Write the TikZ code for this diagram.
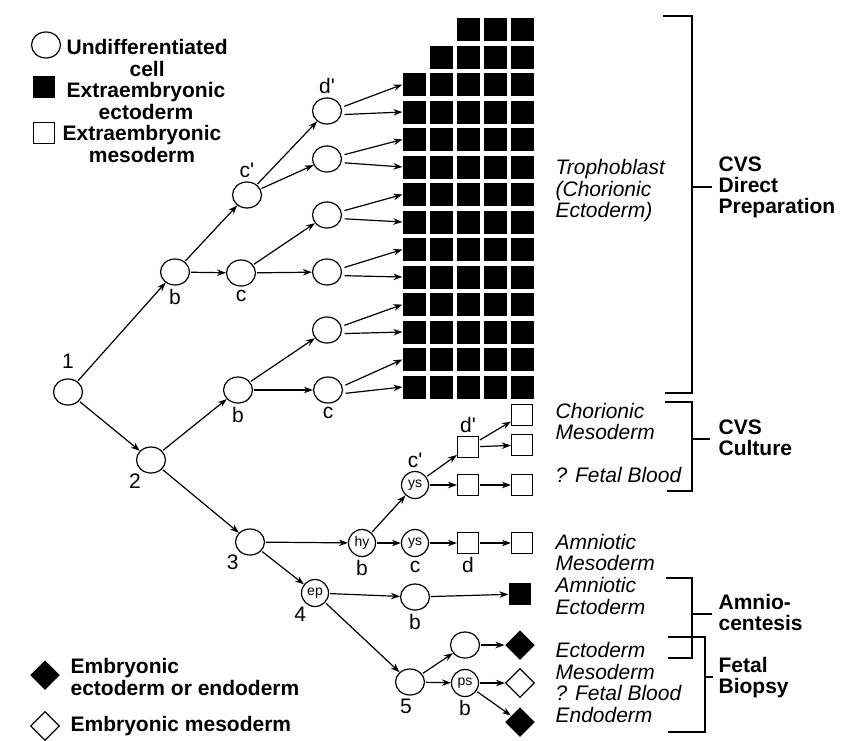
\documentclass[tikz,border=0pt]{standalone}
\usepackage{fontspec}
\setmainfont{Liberation Sans}
\usetikzlibrary{arrows.meta,positioning,shapes.geometric}

\begin{document}
\begin{tikzpicture}[x=1pt, y=-1pt, line width=1.2pt,
    font=\fontsize{21}{22}\selectfont,
    cell/.style={ellipse, draw, minimum width=29pt, minimum height=26pt, inner sep=0pt},
    tagcell/.style={circle, draw, minimum size=27pt, inner sep=0pt, font=\fontsize{14}{14}\selectfont},
    ecto/.style={rectangle, fill=black, minimum size=23pt, inner sep=0pt},
    meso/.style={rectangle, draw, minimum size=21pt, inner sep=0pt},
    embecto/.style={diamond, fill=black, minimum size=30pt, inner sep=0pt},
    embmeso/.style={diamond, draw, minimum size=29pt, inner sep=0pt},
    tissue/.style={font=\fontsize{21}{21.5}\selectfont\itshape, align=left, anchor=west, inner sep=0pt},
    method/.style={font=\fontsize{21}{21}\selectfont\bfseries, align=left, anchor=west, inner sep=0pt},
    key/.style={font=\fontsize{21}{22.5}\selectfont\bfseries, inner sep=0pt},
    arr/.style={-{Stealth[length=9pt,width=6.5pt]}, shorten <=1pt},
    label distance=2pt,
    every label/.style={inner sep=1pt, font=\fontsize{21}{22}\selectfont}]

    \useasboundingbox (0,0) rectangle (842,740);

    % Legend
    \node[cell] (keycell) at (46,45) {};
    \node[key, align=center, anchor=west] (keycelltxt) at (66,58) {Undifferentiated\\cell};
    \node[ecto, minimum size=22pt] (keyecto) at (44,87) {};
    \node[key, align=center, anchor=west] (keyectotxt) at (66,101) {Extraembryonic\\ectoderm};
    \node[meso] (keymeso) at (44,133) {};
    \node[key, align=center, anchor=west] (keymesotxt) at (62,144) {Extraembryonic\\mesoderm};
    \node[embecto] (keyembecto) at (45,675) {};
    \node[key, align=left, anchor=west] (keyembectotxt) at (70,677) {Embryonic\\ectoderm or endoderm};
    \node[embmeso] (keyembmeso) at (45,726) {};
    \node[key, anchor=west] (keyembmesotxt) at (70,726) {Embryonic mesoderm};

    % Trophoblast blocks
    \foreach \r in {1,...,14}{
        \pgfmathtruncatemacro\first{max(1,4-\r)}
        \foreach \c in {\first,...,5}
            \node[ecto] (sq-\r-\c) at ({414.5+27*(\c-1)}, {29.5+27.5*(\r-1)}) {};
    }

    % Cells
    \node[cell, label={[label distance=8pt]above:1}] (n1) at (68,392) {};
    \node[cell, label=below:b] (b1) at (175,272) {};
    \node[cell, label=below:c] (c1) at (241,273) {};
    \node[cell, label={above:c\textquotesingle}] (cp) at (247,195) {};
    \node[cell, label={above:d\textquotesingle}] (dp) at (327,111) {};
    \node[cell] (e2) at (327,159) {};
    \node[cell] (e3) at (327,215) {};
    \node[cell] (e4) at (327,272) {};
    \node[cell, label={[label distance=1pt]-125:2}] (n2) at (151,460) {};
    \node[cell, label=below:b] (b2) at (238,390) {};
    \node[cell, label=below:c] (c2) at (328,390) {};
    \node[cell] (e5) at (327,330) {};
    \node[cell, label={[label distance=1pt]-130:3}] (n3) at (250,542) {};
    \node[tagcell, label=below:b] (hy) at (362,543) {hy};
    \node[tagcell, label={above:c\textquotesingle}] (ys1) at (415,485) {ys};
    \node[tagcell, label=below:c] (ys2) at (415,543) {ys};
    \node[tagcell, label={[label distance=0pt]-122:4}] (ep) at (315,593) {ep};
    \node[cell, label=below:b] (b3) at (415,597) {};
    \node[cell, label={[xshift=-4pt]below:5}] (n5) at (410,682) {};
    \node[cell] (f1) at (465,645) {};
    \node[tagcell, label=below:b] (ps) at (465,683) {ps};

    % Derived tissues
    \node[meso, label={above:d\textquotesingle}] (m1) at (468,447) {};
    \node[meso] (m2) at (522,415) {};
    \node[meso] (m3) at (522,445) {};
    \node[meso] (m4) at (468,485) {};
    \node[meso] (m5) at (522,485) {};
    \node[meso, label=below:d] (m6) at (468,543) {};
    \node[meso] (m7) at (522,543) {};
    \node[ecto, minimum size=22pt] (x1) at (520,594) {};
    \node[embecto] (k1) at (520,645) {};
    \node[embmeso] (k2) at (520,683) {};
    \node[embecto] (k3) at (520,722) {};

    % Lineages
    \path[arr]
        % From 1
        (n1) edge (b1)
        (n1) edge (n2)
        % From upper b
        (b1) edge (cp)
        (b1) edge (c1)
        (cp) edge (dp)
        (cp) edge (e2)
        (c1) edge (e3)
        (c1) edge (e4)
        % From 2
        (n2) edge (b2)
        (n2) edge (n3)
        (b2) edge (e5)
        (b2) edge (c2)
        % From 3
        (n3) edge (hy)
        (n3) edge (ep)
        (hy) edge (ys1)
        (hy) edge (ys2)
        (ys1) edge (m1)
        (ys1) edge (m4)
        (m1) edge (m2)
        (m1) edge (m3)
        (m4) edge (m5)
        (ys2) edge (m6)
        (m6) edge (m7)
        % From 4
        (ep) edge (b3)
        (b3) edge (x1)
        (ep) edge (n5)
        % From 5
        (n5) edge (f1)
        (n5) edge (ps)
        (f1) edge (k1)
        (ps) edge (k2)
        (ps) edge (k3);

    % Into the trophoblast
    \foreach \src/\r in {dp/3, e2/5, e3/7, e4/9, e5/11, c2/13}{
        \pgfmathtruncatemacro\rr{\r+1}
        \path[arr, shorten <=3pt] (\src.14) edge (sq-\r-1.west) (\src.-14) edge (sq-\rr-1.west);
    }

    % Tissue names
    \node[tissue] (troph) at (555,191) {Trophoblast\\(Chorionic\\Ectoderm)};
    \node[tissue] (chormeso) at (555,421.5) {Chorionic\\Mesoderm};
    \node[tissue] (fetblood) at (555,475) {? Fetal Blood};
    \node[tissue] (amnmeso) at (555,552.5) {Amniotic\\Mesoderm};
    \node[tissue] (amnecto) at (555,596) {Amniotic\\Ectoderm};
    \node[tissue] (embryo) at (555,682.5) {Ectoderm\\Mesoderm\\? Fetal Blood\\Endoderm};

    % Brackets and sampling methods
    \draw (663,16) -- (692,16) -- (692,393) -- (665,393) (692,187) -- (712,187);
    \draw (665,402) -- (692,402) -- (692,491) -- (667,491) (692,439) -- (710,439);
    \draw (666,578) -- (692,578) -- (692,658) -- (668,658) (692,614) -- (712,614);
    \draw (668,637) -- (705,637) -- (705,732) -- (668,732) (705,677) -- (713,677);
    \node[method] (direct) at (718,187) {CVS\\Direct\\Preparation};
    \node[method] (culture) at (718,438) {CVS\\Culture};
    \node[method] (amnio) at (718,612) {Amnio-\\centesis};
    \node[method] (biopsy) at (718,678) {Fetal\\Biopsy};

\end{tikzpicture}
\end{document}
